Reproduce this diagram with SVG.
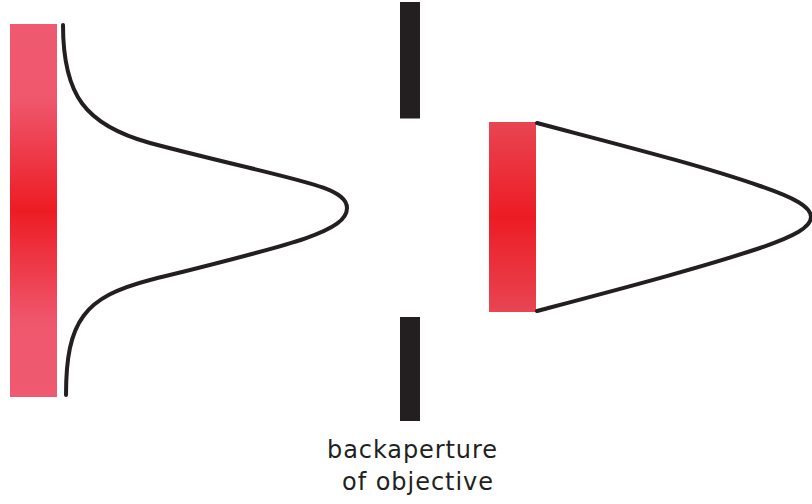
<svg xmlns="http://www.w3.org/2000/svg" width="812" height="504" viewBox="0 0 812 504">
  <defs>
    <linearGradient id="gradWide" x1="0" y1="0" x2="0" y2="1">
      <stop offset="0" stop-color="#ef5a70"/>
      <stop offset="0.2" stop-color="#ef576d"/>
      <stop offset="0.5" stop-color="#ed1c24"/>
      <stop offset="0.8" stop-color="#ef576d"/>
      <stop offset="1" stop-color="#ef5a70"/>
    </linearGradient>
    <linearGradient id="gradNarrow" x1="0" y1="0" x2="0" y2="1">
      <stop offset="0" stop-color="#e84552"/>
      <stop offset="0.5" stop-color="#ed1c24"/>
      <stop offset="1" stop-color="#e84552"/>
    </linearGradient>
    <style>
      .profile { fill: none; stroke: #231f20; stroke-width: 4; stroke-linecap: round; stroke-linejoin: round; }
      .stop { fill: #231f20; }
      .label { font-family: "DejaVu Sans", Verdana, sans-serif; font-size: 24px; fill: #231f20; }
    </style>
  </defs>

  <!-- incoming beam: wide bar with its intensity profile -->
  <g id="beam-in">
    <rect x="10" y="24" width="47" height="373" fill="url(#gradWide)"/>
  </g>

  <!-- aperture stops of the objective -->
  <g id="aperture">
    <rect class="stop" x="400" y="2" width="20" height="116.5"/>
    <rect class="stop" x="400" y="317" width="20" height="104"/>
    <text class="label" x="327" y="458" textLength="170" lengthAdjust="spacing">backaperture</text>
    <text class="label" x="342" y="490" textLength="151" lengthAdjust="spacing">of objective</text>
  </g>

  <!-- transmitted beam: truncated bar -->
  <g id="beam-out">
    <rect x="489" y="122" width="47" height="190" fill="url(#gradNarrow)"/>
  </g>

  <!-- intensity profiles -->
  <g id="connectors">
    <path class="profile" d="M63,25 C63,95 85,125 150,143 C290,180 347,185 347,208 C347,232 290,245 150,280 C85,297 66,320 66,395"/>
    <path class="profile" d="M537,123 C620,145 700,165 760,186 C795,198 811,207 811,217 C811,227 795,236 760,248 C700,268 620,289 537,311"/>
  </g>
</svg>
